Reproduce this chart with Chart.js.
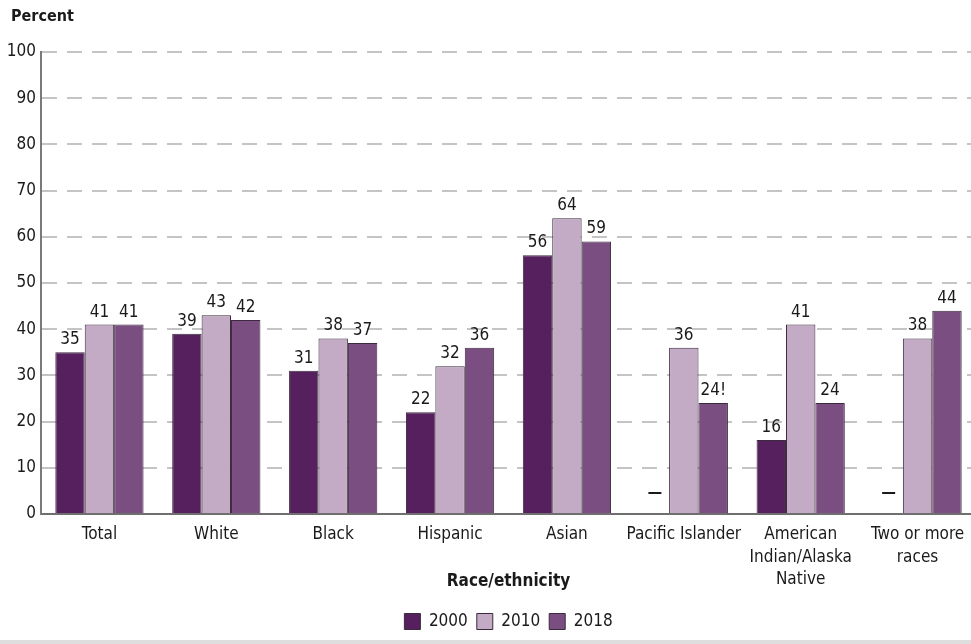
<!DOCTYPE html>
<html>
<head>
<meta charset="utf-8">
<script src="https://cdn.jsdelivr.net/npm/chart.js@4"></script>
<style>
	html, body { margin: 0; padding: 0; overflow: hidden; background: #dedede; }
	canvas { display: block; background: #fff; }
</style>
</head>
<body>
<canvas id="raceChart" width="976" height="640"></canvas>
<script>
const categories = ['Total', 'White', 'Black', 'Hispanic', 'Asian', 'Pacific Islander',
	['American', 'Indian/Alaska', 'Native'], ['Two or more', 'races']]
const years = ['2000', '2010', '2018']
const values2000 = [35, 39, 31, 22, 56, null, 16, null]
const values2010 = [41, 43, 38, 32, 64, 36, 41, 38]
const values2018 = [41, 42, 37, 36, 59, 24, 24, 44]
// "!" = interpret with caution
const notes2018 = ['', '', '', '', '', '!', '', '']
const yTicks = [0, 10, 20, 30, 40, 50, 60, 70, 80, 90, 100]

const colors = ['#55205d', '#c3abc5', '#7b4e82']
const fontFamily = '"Liberation Sans Narrow", "DejaVu Sans Condensed", Roboto, sans-serif'
const textColor = '#1a1a1a'

//"Percent" over the y axis
const unitLabel = {
	id: 'unitLabel',
	afterDraw(chart) {
		const ctx = chart.ctx
		ctx.save()
		ctx.fillStyle = textColor
		ctx.font = 'bold 16px ' + fontFamily
		ctx.textAlign = 'left'
		ctx.textBaseline = 'middle'
		ctx.fillText('Percent', 11, 17)
		ctx.restore()
	}
}

//labels above the bars, dash for missing values
const valueLabels = {
	id: 'valueLabels',
	afterDatasetsDraw(chart) {
		const ctx = chart.ctx
		const zeroY = chart.scales.y.getPixelForValue(0)
		ctx.save()
		ctx.fillStyle = textColor
		ctx.font = '17px ' + fontFamily
		ctx.textAlign = 'center'
		ctx.textBaseline = 'alphabetic'
		chart.data.datasets.forEach((ds, i) => {
			const meta = chart.getDatasetMeta(i)
			meta.data.forEach((bar, j) => {
				const v = ds.data[j]
				if (v == null) {
					ctx.fillRect(bar.x - 6, zeroY - 22, 13, 2)
					return
				}
				const note = ds.notes ? ds.notes[j] : ''
				ctx.fillText(v + note, bar.x, bar.y - 8)
			})
		})
		ctx.restore()
	}
}

const datasets = [values2000, values2010, values2018].map((values, i) => ({
	label: years[i],
	data: values,
	notes: i == 2 ? notes2018 : null,
	backgroundColor: colors[i],
	borderColor: '#3b2a3d',
	borderWidth: 1,
	borderSkipped: 'bottom',
	categoryPercentage: 0.755,
	barPercentage: 1.0
}))

new Chart(document.getElementById('raceChart'), {
	type: 'bar',
	data: { labels: categories, datasets: datasets },
	plugins: [valueLabels, unitLabel],
	options: {
		responsive: false,
		animation: false,
		layout: { padding: { top: 52, right: 0, bottom: 0, left: 0 } },
		plugins: {
			tooltip: { enabled: false },
			title: { display: false },
			legend: {
				position: 'bottom',
				fullSize: false,
				labels: {
					color: textColor,
					font: { family: fontFamily, size: 17 },
					boxWidth: 16,
					boxHeight: 16,
					padding: 9
				}
			}
		},
		scales: {
			x: {
				grid: { display: false },
				border: { display: true, color: '#6f6f6f', width: 2 },
				ticks: {
					color: textColor,
					font: { family: fontFamily, size: 17, lineHeight: 1.3 },
					padding: 2,
					maxRotation: 0,
					autoSkip: false
				},
				title: {
					display: true,
					text: 'Race/ethnicity',
					color: textColor,
					font: { family: fontFamily, size: 17, weight: 'bold' },
					padding: { top: 0, bottom: 12 }
				},
				afterFit: scale => { scale.height = 90 }
			},
			y: {
				min: 0,
				max: 100,
				afterBuildTicks: scale => { scale.ticks = yTicks.map(v => ({ value: v })) },
				grid: {
					color: '#c4c4c4',
					lineWidth: 2,
					drawTicks: false
				},
				border: { display: true, color: '#7a7a7a', width: 2, dash: [15, 10] },
				ticks: {
					color: textColor,
					font: { family: fontFamily, size: 17 },
					padding: 5
				},
				afterFit: scale => { scale.width = 41 }
			}
		}
	}
})
</script>
</body>
</html>
